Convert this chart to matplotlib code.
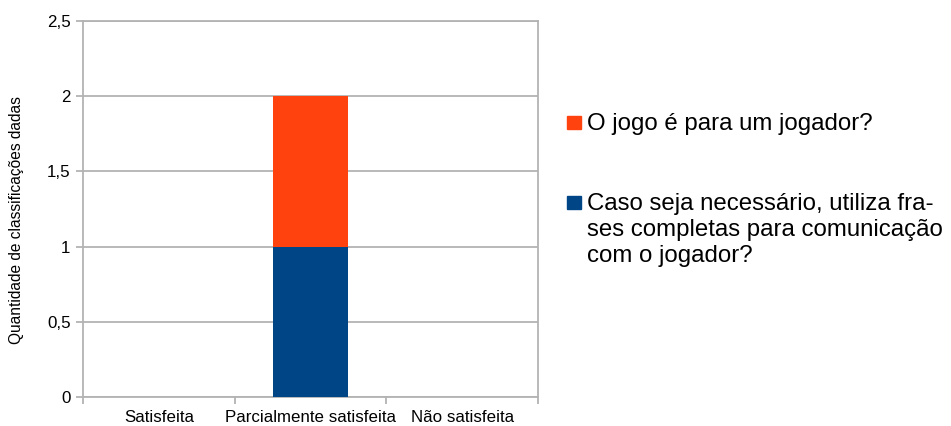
import matplotlib
matplotlib.use('Agg')
import matplotlib.pyplot as plt
from matplotlib.patches import Rectangle
from matplotlib.ticker import FuncFormatter

plt.rcParams.update({
    'font.family': ['Liberation Sans', 'DejaVu Sans'],
    'font.size': 12.2,
    'text.color': '#000000',
})

categories = ['Satisfeita', 'Parcialmente satisfeita', 'Não satisfeita']
series_names = ['Caso seja necessário, utiliza fra-\nses completas para comunicação\ncom o jogador?',
                'O jogo é para um jogador?']
frases = [0, 1, 0]
um_jogador = [0, 1, 0]
colors = ['#004586', '#ff420e']
yticks = [0, 0.5, 1, 1.5, 2, 2.5]

W, H = 951, 426
fig = plt.figure(figsize=(W / 100, H / 100), dpi=100)
ax = fig.add_axes([83/W, 1 - 397/H, 455/W, 376/H])

x = list(range(len(categories)))
ax.bar(x, frases, width=0.5, color=colors[0], zorder=3)
ax.bar(x, um_jogador, width=0.5, bottom=frases, color=colors[1], zorder=3)

ax.set_xlim(-0.5, len(categories) - 0.5)
ax.set_ylim(0, 2.5)
ax.set_yticks(yticks)
ax.yaxis.set_major_formatter(FuncFormatter(lambda v, p: f'{v:g}'.replace('.', ',')))
ax.grid(axis='y', color='#b3b3b3', lw=1.3, zorder=0)

# category labels sit between the boundary ticks
ax.set_xticks([i + 0.5 for i in range(-1, len(categories))])
ax.set_xticklabels([])
ax.set_xticks(x, minor=True)
ax.set_xticklabels(categories, minor=True)
ax.tick_params(axis='x', which='minor', length=0, pad=9)
ax.tick_params(axis='x', which='major', length=5, color='#b3b3b3', width=1.3)
ax.tick_params(axis='y', length=5, color='#b3b3b3', width=1.3, pad=4)
for s in ax.spines.values():
    s.set_color('#b3b3b3')
    s.set_linewidth(1.3)

fig.text(17/W, 1 - 220/H, 'Quantidade de classificações dadas', rotation=90,
         ha='center', va='center', fontsize=11.2)

# hand-drawn legend: square next to the first line of each entry
entries = [(series_names[1], colors[1], 130), (series_names[0], colors[0], 210)]
for label, col, base in entries:
    fig.add_artist(Rectangle((567/W, 1 - (base - 1)/H), 14/W, 13/H,
                             transform=fig.transFigure, color=col))
    for i, line in enumerate(label.split('\n')):
        fig.text(587/W, 1 - (base + 26 * i)/H, line, ha='left', va='baseline',
                 fontsize=17.3)

fig.savefig('out.png', dpi=100)
